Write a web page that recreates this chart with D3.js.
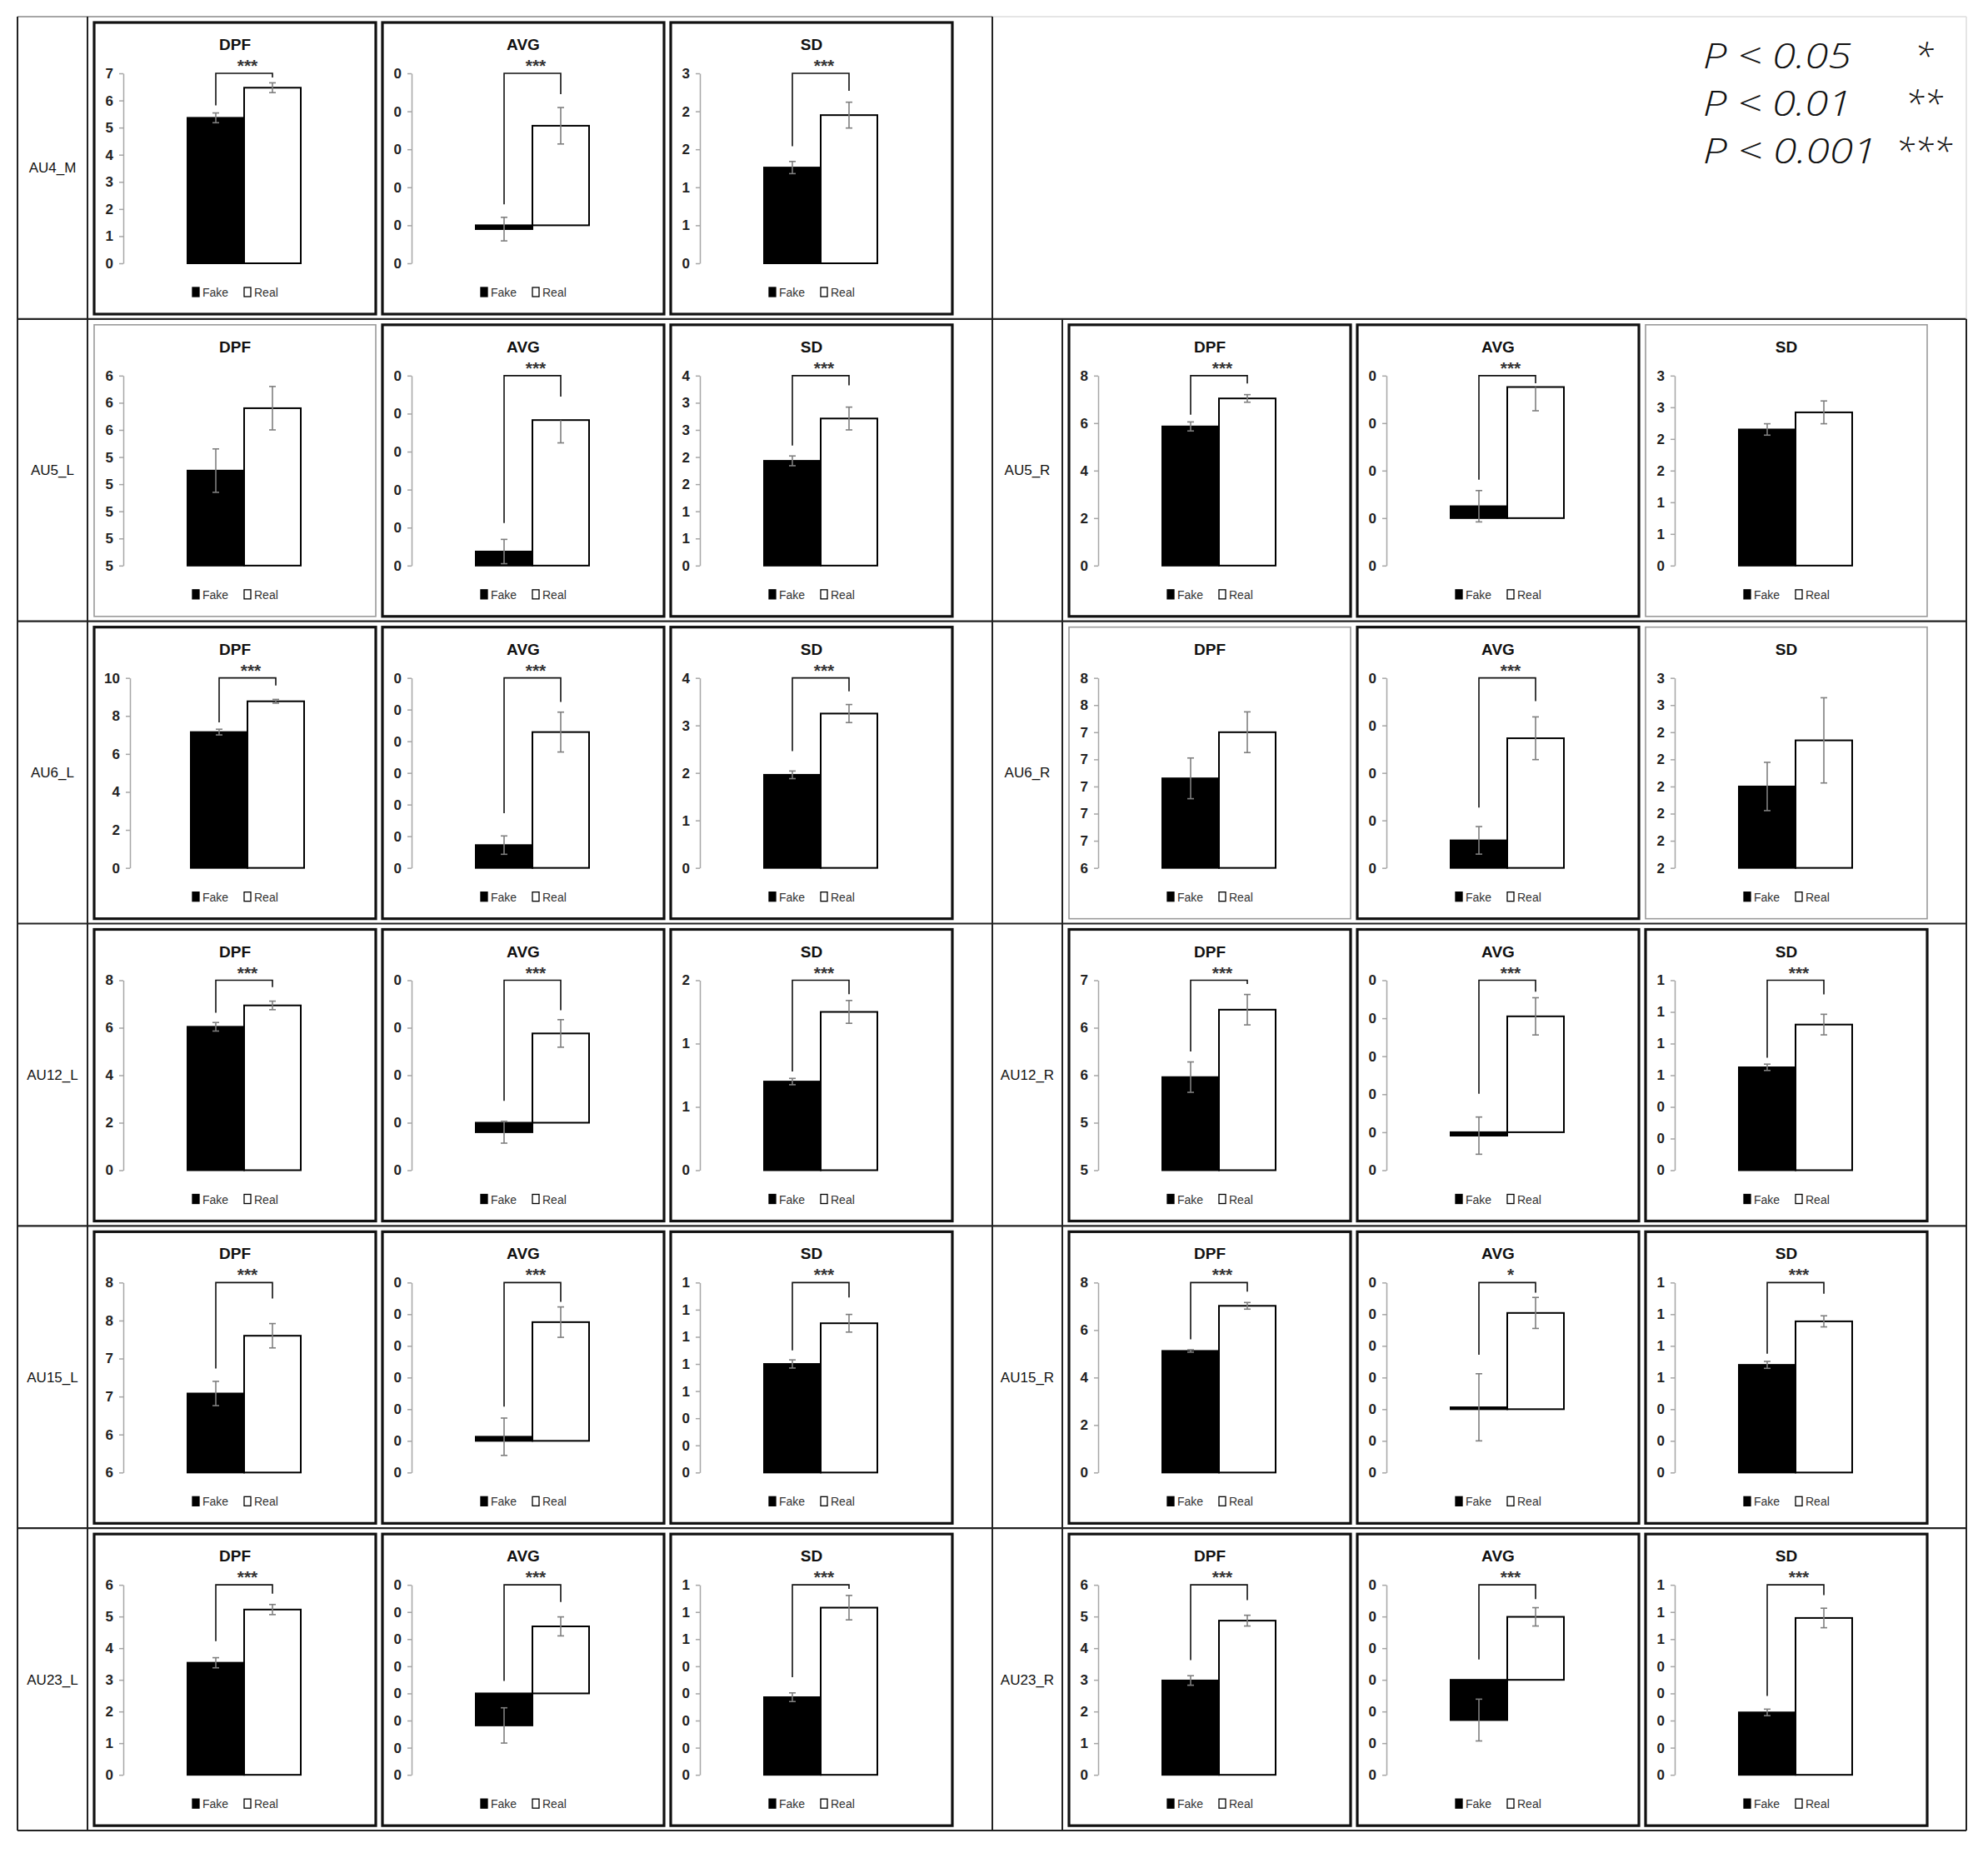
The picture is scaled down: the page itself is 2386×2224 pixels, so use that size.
<!DOCTYPE html>
<html>
<head>
<meta charset="utf-8">
<script src="https://cdn.jsdelivr.net/npm/d3@7"></script>
<style>
  body { margin: 0; background: #fff; }
  svg text { font-family: "Liberation Sans Narrow", "Arial Narrow", "Liberation Sans", sans-serif; }
  svg text.plegend { font-family: "Open Sans", "Noto Sans", sans-serif; }
</style>
</head>
<body>
<svg id="chart" width="2386" height="2224"></svg>
<script>
// panels, in the order: AU4_M, AU5_L, AU5_R, AU6_L, AU6_R, AU12_L, AU12_R, AU15_L, AU15_R, AU23_L, AU23_R
const units = ['AU4_M', 'AU5_L', 'AU5_R', 'AU6_L', 'AU6_R', 'AU12_L', 'AU12_R', 'AU15_L', 'AU15_R', 'AU23_L', 'AU23_R'];
const rowNames = ['AU4', 'AU5', 'AU6', 'AU12', 'AU15', 'AU23'];
const measures = ['DPF', 'AVG', 'SD'];
const series = ['Fake', 'Real'];

// DPF
const dpfFake = [5.36, 5.35, 5.86, 7.15, 7.06, 6.04, 5.48, 6.54, 5.12, 3.54, 2.98];
const dpfFakeErr = [0.18, 0.08, 0.19, 0.15, 0.15, 0.18, 0.16, 0.16, 0.05, 0.16, 0.15];
const dpfReal = [6.47, 5.58, 7.04, 8.77, 7.40, 6.94, 6.19, 7.30, 7.02, 5.22, 4.87];
const dpfRealErrUp = [0.18, 0.08, 0.16, 0.10, 0.15, 0.18, 0.16, 0.16, 0.14, 0.16, 0.17];
const dpfRealErrDown = [0.18, 0.08, 0.16, 0.10, 0.15, 0.18, 0.16, 0.16, 0.14, 0.16, 0.17];
const dpfSig = ['***', '', '***', '***', '', '***', '***', '***', '***', '***', '***'];
const dpfLegs = [[5.82, 6.85], null, [6.35, 7.67], [7.66, 9.6], null, [6.63, 7.71], [5.75, 6.46], [6.87, 7.79], [5.61, 7.62], [4.22, 5.72], [3.62, 5.52]];
const dpfTickStart = [0, 5.0, 0, 0, 6.4, 0, 4.5, 5.5, 0, 0, 0];
const dpfTickStep = [1, 0.1, 2, 2, 0.2, 2, 0.5, 0.5, 2, 1, 1];
const dpfTickLabels = [
  ['0', '1', '2', '3', '4', '5', '6', '7'],
  ['5', '5', '5', '5', '5', '6', '6', '6'],
  ['0', '2', '4', '6', '8'],
  ['0', '2', '4', '6', '8', '10'],
  ['6', '7', '7', '7', '7', '7', '8', '8'],
  ['0', '2', '4', '6', '8'],
  ['5', '5', '6', '6', '7'],
  ['6', '6', '7', '7', '8', '8'],
  ['0', '2', '4', '6', '8'],
  ['0', '1', '2', '3', '4', '5', '6'],
  ['0', '1', '2', '3', '4', '5', '6']
];

// AVG (axis labels are all rounded to 0 in the original)
const avgFake = [-0.10, 0.37, 0.25, 0.72, 0.58, -0.20, -0.09, 0.13, 0.06, -1.18, -1.27];
const avgFakeErr = [0.31, 0.32, 0.33, 0.29, 0.29, 0.23, 0.49, 0.59, 1.06, 0.65, 0.66];
const avgReal = [2.62, 3.83, 2.76, 4.29, 2.73, 1.88, 3.05, 3.75, 3.04, 2.47, 1.99];
const avgRealErrUp = [0.48, 0, 0, 0.63, 0.45, 0.29, 0.49, 0.48, 0.49, 0.35, 0.29];
const avgRealErrDown = [0.48, 0.60, 0.50, 0.63, 0.45, 0.29, 0.49, 0.48, 0.49, 0.35, 0.29];
const avgSig = ['***', '***', '***', '***', '***', '***', '***', '***', '*', '***', '***'];
const avgLegs = [[0.55, 3.45], [1.12, 4.45], [0.81, 2.84], [1.73, 5.24], [1.27, 3.51], [0.46, 2.37], [1.01, 3.7], [1.08, 4.39], [1.72, 3.68], [0.46, 3.37], [0.64, 2.55]];
const avgTickStart = [-1, 0, -1, 0, 0, -1, -1, -1, -2, -3, -3];
const avgTickStep = [1, 1, 1, 1, 1, 1, 1, 1, 1, 1, 1];
const avgTickLabels = [
  ['0', '0', '0', '0', '0', '0'],
  ['0', '0', '0', '0', '0', '0'],
  ['0', '0', '0', '0', '0'],
  ['0', '0', '0', '0', '0', '0', '0'],
  ['0', '0', '0', '0', '0'],
  ['0', '0', '0', '0', '0'],
  ['0', '0', '0', '0', '0', '0'],
  ['0', '0', '0', '0', '0', '0', '0'],
  ['0', '0', '0', '0', '0', '0', '0'],
  ['0', '0', '0', '0', '0', '0', '0', '0'],
  ['0', '0', '0', '0', '0', '0', '0']
];

// SD
const sdFake = [1.26, 1.93, 2.15, 1.96, 2.20, 0.70, 0.65, 0.80, 0.68, 0.286, 0.23];
const sdFakeErr = [0.08, 0.09, 0.09, 0.08, 0.089, 0.025, 0.02, 0.03, 0.022, 0.016, 0.012];
const sdReal = [1.95, 2.71, 2.42, 3.25, 2.37, 1.25, 0.92, 1.10, 0.955, 0.616, 0.578];
const sdRealErrUp = [0.17, 0.21, 0.18, 0.19, 0.157, 0.09, 0.065, 0.065, 0.035, 0.045, 0.036];
const sdRealErrDown = [0.17, 0.21, 0.18, 0.19, 0.157, 0.09, 0.065, 0.065, 0.035, 0.045, 0.036];
const sdSig = ['***', '***', '', '***', '', '***', '***', '***', '***', '***', '***'];
const sdLegs = [[1.54, 2.27], [2.21, 3.32], null, [2.46, 3.72], null, [0.78, 1.39], [0.71, 1.11], [0.90, 1.29], [0.75, 1.13], [0.36, 0.685], [0.291, 0.662]];
const sdTickStart = [0, 0, 0, 0, 1.9, 0, 0, 0, 0, 0, 0];
const sdTickStep = [0.5, 0.5, 0.5, 1, 0.1, 0.5, 0.2, 0.2, 0.2, 0.1, 0.1];
const sdTickLabels = [
  ['0', '1', '1', '2', '2', '3'],
  ['0', '1', '1', '2', '2', '3', '3', '4'],
  ['0', '1', '1', '2', '2', '3', '3'],
  ['0', '1', '2', '3', '4'],
  ['2', '2', '2', '2', '2', '2', '3', '3'],
  ['0', '1', '1', '2'],
  ['0', '0', '0', '1', '1', '1', '1'],
  ['0', '0', '0', '1', '1', '1', '1', '1'],
  ['0', '0', '0', '1', '1', '1', '1'],
  ['0', '0', '0', '0', '0', '1', '1', '1'],
  ['0', '0', '0', '0', '0', '1', '1', '1']
];

const pLevels = ['P < 0.05', 'P < 0.01', 'P < 0.001'];
const pStars = ['*', '**', '***'];

// table built from the arrays above
const byMeasure = {
  DPF: { fake: dpfFake, fakeErr: dpfFakeErr, real: dpfReal, up: dpfRealErrUp, dn: dpfRealErrDown, sig: dpfSig, legs: dpfLegs, start: dpfTickStart, step: dpfTickStep, labels: dpfTickLabels },
  AVG: { fake: avgFake, fakeErr: avgFakeErr, real: avgReal, up: avgRealErrUp, dn: avgRealErrDown, sig: avgSig, legs: avgLegs, start: avgTickStart, step: avgTickStep, labels: avgTickLabels },
  SD: { fake: sdFake, fakeErr: sdFakeErr, real: sdReal, up: sdRealErrUp, dn: sdRealErrDown, sig: sdSig, legs: sdLegs, start: sdTickStart, step: sdTickStep, labels: sdTickLabels }
};

const svg = d3.select('#chart');

// table frame
const tX0 = 21, tX1 = 2360, tY0 = 20, tY1 = 2197;
const labelCol = 84;
const midX = 1191;
const groupX = [tX0 + labelCol, midX + labelCol];
const rowY = d3.scaleBand().domain(rowNames).range([tY0, tY1]);
const panelW = 338, panelH = 350, panelStep = 346;

const grid = svg.append('g');
rowNames.slice(1).forEach(r => {
  grid.append('line').attr('x1', tX0).attr('x2', tX1).attr('y1', rowY(r)).attr('y2', rowY(r))
    .attr('stroke', '#222').attr('stroke-width', 2.2);
});
grid.append('line').attr('x1', tX0).attr('x2', midX).attr('y1', tY0).attr('y2', tY0).attr('stroke', '#888').attr('stroke-width', 1.5);
grid.append('line').attr('x1', midX).attr('x2', tX1).attr('y1', tY0).attr('y2', tY0).attr('stroke', '#ddd').attr('stroke-width', 1.5);
grid.append('line').attr('x1', tX0).attr('x2', tX1).attr('y1', tY1).attr('y2', tY1).attr('stroke', '#222').attr('stroke-width', 2);
grid.append('line').attr('x1', tX0).attr('x2', tX0).attr('y1', tY0).attr('y2', tY1).attr('stroke', '#222').attr('stroke-width', 2);
grid.append('line').attr('x1', groupX[0]).attr('x2', groupX[0]).attr('y1', tY0).attr('y2', tY1).attr('stroke', '#222').attr('stroke-width', 2);
grid.append('line').attr('x1', midX).attr('x2', midX).attr('y1', tY0).attr('y2', tY1).attr('stroke', '#222').attr('stroke-width', 2);
grid.append('line').attr('x1', groupX[1]).attr('x2', groupX[1]).attr('y1', rowY('AU5')).attr('y2', tY1).attr('stroke', '#222').attr('stroke-width', 2);
grid.append('line').attr('x1', tX1).attr('x2', tX1).attr('y1', tY0).attr('y2', rowY('AU5')).attr('stroke', '#ddd').attr('stroke-width', 1.5);
grid.append('line').attr('x1', tX1).attr('x2', tX1).attr('y1', rowY('AU5')).attr('y2', tY1).attr('stroke', '#222').attr('stroke-width', 2);

// p value legend
const pg = svg.append('g');
pLevels.forEach((t, i) => {
  pg.append('text').attr('class', 'plegend').attr('x', 2044).attr('y', 82 + i * 57)
    .attr('font-size', 42).attr('font-style', 'italic').attr('font-weight', 300).attr('fill', '#111')
    .attr('textLength', i === 2 ? 208 : 178).attr('lengthAdjust', 'spacingAndGlyphs').text(t);
  pg.append('text').attr('class', 'plegend').attr('x', 2309).attr('y', 82 + i * 57)
    .attr('text-anchor', 'middle').attr('font-size', 42).attr('font-style', 'italic').attr('font-weight', 300).attr('fill', '#111').text(pStars[i]);
});

// one bar panel
function drawPanel(g, m, i) {
  const d = byMeasure[m];
  const labels = d.labels[i];
  const ticks = labels.map((_, k) => d.start[i] + k * d.step[i]);
  const sig = d.sig[i];

  g.append('rect').attr('width', panelW).attr('height', panelH).attr('fill', '#fff')
    .attr('stroke', sig ? '#111' : '#9a9a9a').attr('stroke-width', sig ? 3.2 : 1.6);

  g.append('text').attr('x', panelW / 2).attr('y', 33).attr('text-anchor', 'middle')
    .attr('font-size', 19).attr('font-weight', 'bold').attr('fill', '#111').text(m);

  const axisX = 27 + 8 * d3.max(labels, s => s.length);
  const y = d3.scaleLinear().domain([ticks[0], ticks[ticks.length - 1]]).range([289, 61]);
  const cx = (axisX + 325) / 2;
  const x = d3.scaleBand().domain(series).range([cx - 68, cx + 68]);

  const ax = g.append('g').attr('transform', `translate(${axisX},0)`)
    .call(d3.axisLeft(y).tickValues(ticks).tickFormat((v, k) => labels[k]).tickSize(5).tickSizeOuter(0).tickPadding(7));
  ax.select('.domain').attr('stroke', '#a6a6a6').attr('stroke-width', 1.5);
  ax.selectAll('.tick line').attr('stroke', '#a6a6a6').attr('stroke-width', 1.5);
  ax.selectAll('.tick text').attr('font-size', 17).attr('font-weight', 'bold').attr('fill', '#222');

  const base = Math.max(ticks[0], 0);
  const vals = [
    { s: 'Fake', v: d.fake[i], up: d.fakeErr[i], dn: d.fakeErr[i] },
    { s: 'Real', v: d.real[i], up: d.up[i], dn: d.dn[i] }
  ];

  g.selectAll('rect.bar').data(vals).join('rect').attr('class', 'bar')
    .attr('x', v => x(v.s)).attr('width', x.bandwidth())
    .attr('y', v => Math.min(y(v.v), y(base)))
    .attr('height', v => Math.max(1.5, Math.abs(y(v.v) - y(base))))
    .attr('fill', v => v.s === 'Fake' ? '#000' : '#fff')
    .attr('stroke', '#000').attr('stroke-width', 2);

  // error bars
  const eb = g.selectAll('g.err').data(vals).join('g').attr('class', 'err')
    .attr('stroke', '#7f7f7f').attr('stroke-width', 1.6);
  eb.append('line')
    .attr('x1', v => x(v.s) + x.bandwidth() / 2).attr('x2', v => x(v.s) + x.bandwidth() / 2)
    .attr('y1', v => y(v.v - v.dn)).attr('y2', v => y(v.v + v.up));
  eb.filter(v => v.up > 0).append('line')
    .attr('x1', v => x(v.s) + x.bandwidth() / 2 - 4).attr('x2', v => x(v.s) + x.bandwidth() / 2 + 4)
    .attr('y1', v => y(v.v + v.up)).attr('y2', v => y(v.v + v.up));
  eb.filter(v => v.dn > 0).append('line')
    .attr('x1', v => x(v.s) + x.bandwidth() / 2 - 4).attr('x2', v => x(v.s) + x.bandwidth() / 2 + 4)
    .attr('y1', v => y(v.v - v.dn)).attr('y2', v => y(v.v - v.dn));

  // significance bracket
  if (sig) {
    const legs = d.legs[i];
    const xl = x('Fake') + x.bandwidth() / 2, xr = x('Real') + x.bandwidth() / 2;
    const yTop = y(ticks[ticks.length - 1]);
    g.append('path')
      .attr('d', `M${xl},${y(legs[0])}V${yTop}H${xr}V${y(legs[1])}`)
      .attr('fill', 'none').attr('stroke', '#111').attr('stroke-width', 1.6);
    g.append('text').attr('x', (xl + xr) / 2 + 4).attr('y', yTop - 2).attr('text-anchor', 'middle')
      .attr('font-size', 21).attr('font-weight', 'bold').attr('fill', '#333').text(sig);
  }

  // legend
  const lg = g.append('g').attr('transform', `translate(${panelW / 2 - 51},318)`);
  series.forEach((s, k) => {
    lg.append('rect').attr('x', k * 62).attr('y', 0).attr('width', 8).attr('height', 11)
      .attr('fill', k === 0 ? '#000' : '#fff').attr('stroke', '#000').attr('stroke-width', 1.3);
    lg.append('text').attr('x', k * 62 + 12).attr('y', 11).attr('font-size', 14).attr('fill', '#333').text(s);
  });
}

units.forEach((u, i) => {
  const side = u.endsWith('_R') ? 1 : 0;
  const row = u.split('_')[0];
  const top = rowY(row);
  svg.append('text').attr('x', side ? (midX + groupX[1]) / 2 : (tX0 + groupX[0]) / 2)
    .attr('y', top + rowY.bandwidth() / 2).attr('dy', '0.35em').attr('text-anchor', 'middle')
    .attr('font-size', 17).attr('fill', '#111').text(u);
  measures.forEach((m, k) => {
    const g = svg.append('g')
      .attr('transform', `translate(${groupX[side] + 8 + k * panelStep},${top + 7})`);
    drawPanel(g, m, i);
  });
});
</script>
</body>
</html>
